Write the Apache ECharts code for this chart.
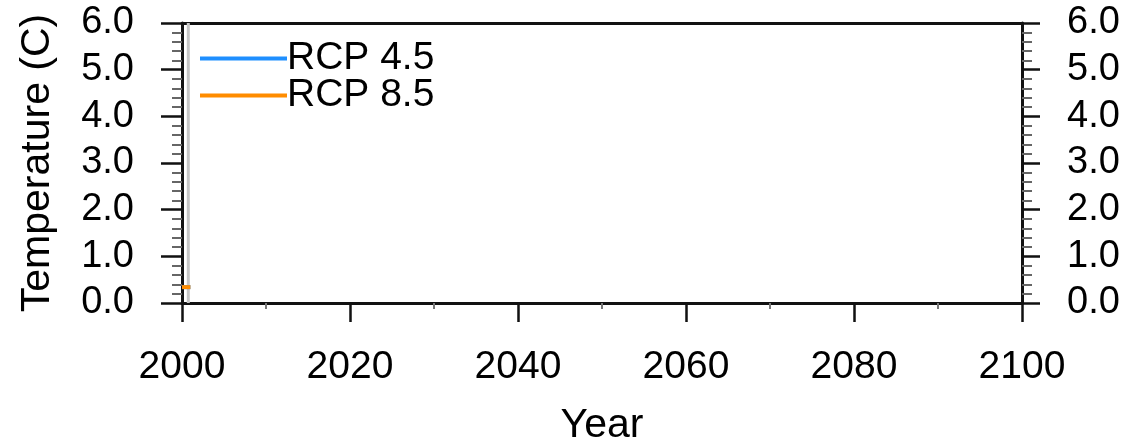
<!DOCTYPE html>
<html>
<head>
<meta charset="utf-8">
<script src="https://cdn.jsdelivr.net/npm/echarts@6/dist/echarts.min.js"></script>
<style>
html,body{margin:0;padding:0;background:#fff;}
#chart{width:1123px;height:443px;}
</style>
</head>
<body>
<div id="chart"></div>
<script>
// Data
const years = [2000, 2001];
const rcp45 = [0.34, 0.34];
const rcp85 = [0.34, 0.34];
const cursorYears = [2000.75, 2000.75];
const cursorTemps = [0, 6];
const yTicks = [0, 1, 2, 3, 4, 5, 6];
const xTicks = [2000, 2020, 2040, 2060, 2080, 2100];

const FONT = 'Liberation Sans, Arial, Helvetica, sans-serif';
const pair = (xs, ys) => xs.map((x, i) => [x, ys[i]]);

const chart = echarts.init(document.getElementById('chart'), null, {renderer: 'canvas'});
const yLabelFmt = v => v.toFixed(1);
const xLabelFmt = v => String(v);

chart.setOption({
  animation: false,
  backgroundColor: '#ffffff',
  grid: {left: 182, right: 101, top: 23, bottom: 140, containLabel: false, outerBoundsMode: 'none'},
  legend: {
    left: 200, top: 39, orient: 'vertical', padding: 0,
    icon: 'rect', itemWidth: 87, itemHeight: 4, itemGap: -2,
    data: ['RCP 4.5', 'RCP 8.5'],
    textStyle: {fontFamily: FONT, fontSize: 39, color: '#000', lineHeight: 38, padding: [0, 0, 0, -5]}
  },
  xAxis: [{
    type: 'value', min: xTicks[0], max: xTicks[xTicks.length - 1], interval: 20,
    position: 'bottom',
    name: 'Year', nameLocation: 'middle', nameGap: 102,
    nameTextStyle: {fontFamily: FONT, fontSize: 41, color: '#000'},
    axisLine: {show: true, onZero: false, lineStyle: {color: '#111', width: 3}},
    axisTick: {show: true, inside: false, length: 19, lineStyle: {color: '#111', width: 2.5}},
    minorTick: {show: true, splitNumber: 2, length: 6, lineStyle: {color: '#777', width: 2}},
    axisLabel: {show: true, margin: 45, fontFamily: FONT, fontSize: 39, color: '#000', formatter: xLabelFmt},
    splitLine: {show: false}
  }, {
    type: 'value', min: xTicks[0], max: xTicks[xTicks.length - 1], interval: 20,
    position: 'top',
    axisLine: {show: true, onZero: false, lineStyle: {color: '#111', width: 3}},
    axisTick: {show: false}, axisLabel: {show: false}, splitLine: {show: false}
  }],
  yAxis: [{
    type: 'value', min: yTicks[0], max: yTicks[yTicks.length - 1], interval: 1,
    position: 'left',
    name: 'Temperature (C)', nameLocation: 'middle', nameGap: 124, nameRotate: 90,
    nameTextStyle: {fontFamily: FONT, fontSize: 41, color: '#000'},
    axisLine: {show: true, onZero: false, lineStyle: {color: '#111', width: 3}},
    axisTick: {show: true, inside: false, length: 21, lineStyle: {color: '#111', width: 2.5}},
    minorTick: {show: true, splitNumber: 5, length: 10, lineStyle: {color: '#666', width: 2}},
    axisLabel: {show: true, margin: 48, fontFamily: FONT, fontSize: 38, color: '#000', formatter: yLabelFmt},
    splitLine: {show: false}
  }, {
    type: 'value', min: yTicks[0], max: yTicks[yTicks.length - 1], interval: 1,
    position: 'right',
    axisLine: {show: true, onZero: false, lineStyle: {color: '#111', width: 3}},
    axisTick: {show: true, inside: false, length: 18, lineStyle: {color: '#111', width: 2.5}},
    minorTick: {show: true, splitNumber: 5, length: 10, lineStyle: {color: '#666', width: 2}},
    axisLabel: {show: true, margin: 45, fontFamily: FONT, fontSize: 38, color: '#000', formatter: yLabelFmt},
    splitLine: {show: false}
  }],
  series: [{
    name: 'cursor', type: 'line', xAxisIndex: 0, yAxisIndex: 0,
    data: pair(cursorYears, cursorTemps), symbol: 'none', silent: true,
    lineStyle: {color: '#c4c4c4', width: 3}, z: 1
  }, {
    name: 'RCP 4.5', type: 'line', xAxisIndex: 0, yAxisIndex: 0,
    data: pair(years, rcp45), symbol: 'none', color: '#1f8fff',
    lineStyle: {color: '#1f8fff', width: 4}, z: 2
  }, {
    name: 'RCP 8.5', type: 'line', xAxisIndex: 0, yAxisIndex: 0,
    data: pair(years, rcp85), symbol: 'none', color: '#ff8c00',
    lineStyle: {color: '#ff8c00', width: 4}, z: 3
  }]
});
</script>
</body>
</html>
